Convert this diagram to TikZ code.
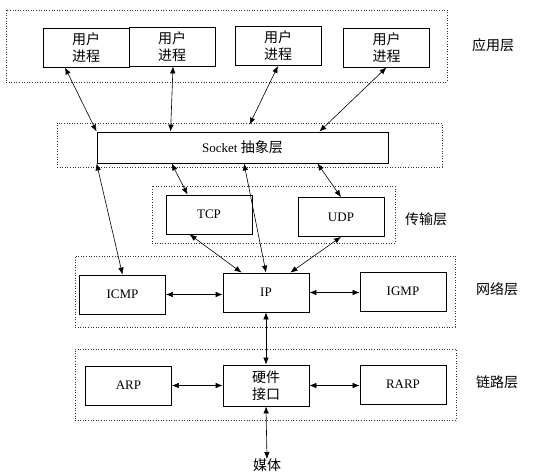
\documentclass[tikz,border=0pt]{standalone}
\usepackage{fontspec}
\setmainfont{Liberation Serif}
\newfontfamily\cjk{Noto Sans CJK SC}
\usetikzlibrary{arrows.meta}
\begin{document}
\begin{tikzpicture}[x=1pt,y=-1pt,
  box/.style={draw,line width=0.8pt,fill=white,minimum width=86pt,minimum height=39pt,inner sep=0pt,align=center,font=\fontsize{13}{17}\selectfont},
  layer/.style={draw=black!80,line width=0.75pt,dash pattern=on 1pt off 1.6pt,inner sep=0pt},
  conn/.style={line width=0.6pt,{Latex[length=7pt,width=5.5pt]}-{Latex[length=7pt,width=5.5pt]}},
  lbl/.style={font=\cjk\fontsize{14}{15}\selectfont,inner sep=0pt}]
\useasboundingbox (0,0) rectangle (542,476);
% layers
\node[layer,minimum width=441pt,minimum height=72pt] (applayer) at (226.5,46) {};
\node[layer,minimum width=385pt,minimum height=44pt] (socklayer) at (249.5,145) {};
\node[layer,minimum width=243pt,minimum height=57pt] (translayer) at (273.5,214.5) {};
\node[layer,minimum width=380pt,minimum height=71pt] (netlayer) at (265,291.5) {};
\node[layer,minimum width=381pt,minimum height=71pt] (linklayer) at (265.5,384.5) {};
% boxes
\node[box] (up1) at (86,47.5) {\cjk\fontsize{14}{17}\selectfont 用户\\\cjk\fontsize{14}{17}\selectfont 进程};
\node[box] (up2) at (172,46.5) {\cjk\fontsize{14}{17}\selectfont 用户\\\cjk\fontsize{14}{17}\selectfont 进程};
\node[box] (up3) at (278,46) {\cjk\fontsize{14}{17}\selectfont 用户\\\cjk\fontsize{14}{17}\selectfont 进程};
\node[box] (up4) at (386.5,47.5) {\cjk\fontsize{14}{17}\selectfont 用户\\\cjk\fontsize{14}{17}\selectfont 进程};
\node[box,minimum width=291pt,minimum height=31pt] (socket) at (242.5,147.5) {Socket {\cjk\fontsize{14}{17}\selectfont 抽象层}};
\node[box] (tcp) at (209,214.5) {TCP};
\node[box] (udp) at (341,217) {UDP};
\node[box] (icmp) at (122.5,294.5) {ICMP};
\node[box] (ip) at (266,292.5) {IP};
\node[box] (igmp) at (403,291.5) {IGMP};
\node[box] (arp) at (128.5,385.5) {ARP};
\node[box,minimum height=41pt] (hw) at (266,385.5) {\cjk\fontsize{14}{17}\selectfont 硬件\\\cjk\fontsize{14}{17}\selectfont 接口};
\node[box] (rarp) at (403,384.5) {RARP};
% labels
\node[lbl] (l1) at (493,45) {应用层};
\node[lbl] (l2) at (426,219) {传输层};
\node[lbl] (l3) at (497,289) {网络层};
\node[lbl] (l4) at (497,382) {链路层};
\node[lbl,anchor=north] (media) at (267,459) {媒体};
% connectors
\draw[conn] ([xshift=-21pt]up1.south) -- (socket.north west);
\draw[conn] ([xshift=1pt]up2.south) -- ([xshift=74pt]socket.north west);
\draw[conn] (up3.south) -- ([yshift=-2pt]socklayer.north);
\draw[conn] (up4.south) -- ([xshift=-69pt]socket.north east);
\draw[conn] ([xshift=75pt]socket.south west) -- ([xshift=22pt]tcp.north west);
\draw[conn] ([xshift=-71pt]socket.south east) -- (udp.north);
\draw[conn] ([xshift=1.5pt]socket.south) -- (ip.north);
\draw[conn] (socket.south west) -- (icmp.north);
\draw[conn] ([xshift=24pt]tcp.south west) -- ([xshift=19pt]ip.north west);
\draw[conn] (udp.south) -- ([xshift=-19pt]ip.north east);
\draw[conn] (icmp.east) -- (icmp.east -| ip.west);
\draw[conn] (ip.east) -- (ip.east -| igmp.west);
\draw[conn] (ip.south) -- (hw.north);
\draw[conn] (arp.east) -- (arp.east -| hw.west);
\draw[conn] (hw.east) -- (hw.east -| rarp.west);
\draw[conn] (hw.south) -- (media.north);
\end{tikzpicture}
\end{document}
